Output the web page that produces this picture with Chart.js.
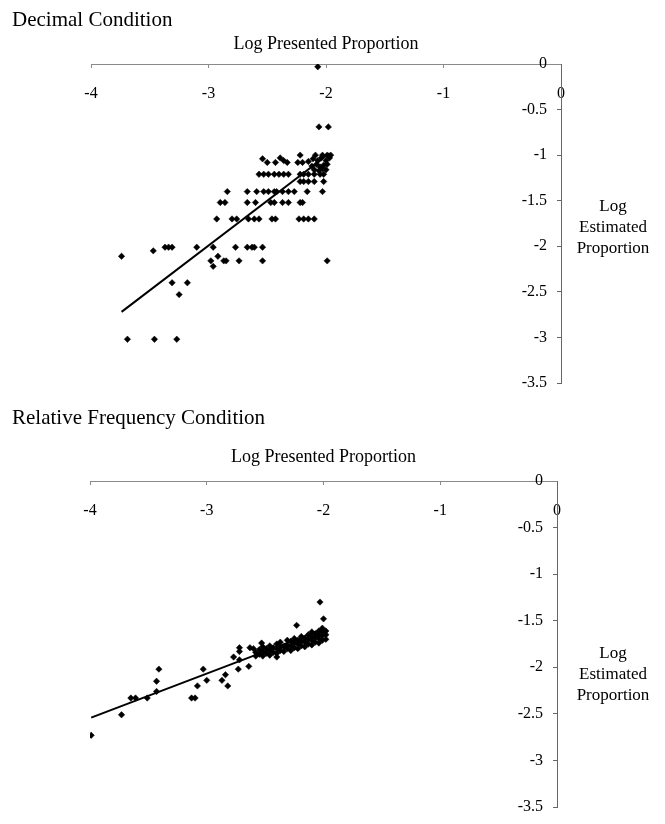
<!DOCTYPE html>
<html>
<head>
<meta charset="utf-8">
<script src="https://cdn.jsdelivr.net/npm/chart.js@4.4.0/dist/chart.umd.min.js"></script>
<style>
  body { margin: 0; background: #fff; font-family: "Liberation Serif", "Times New Roman", serif; color: #000; }
  #page { position: relative; width: 665px; height: 824px; overflow: hidden; }
  canvas { position: absolute; left: 0; }
  .cond { position: absolute; left: 12px; font-size: 21px; line-height: 24px; white-space: nowrap; }
  .ylab { position: absolute; left: 563px; width: 100px; text-align: center; font-size: 17px; line-height: 21px; }
</style>
</head>
<body>
<div id="page">
  <canvas id="decimalChart" width="665" height="400" style="top:0"></canvas>
  <canvas id="freqChart" width="665" height="424" style="top:400px"></canvas>
  <div class="cond" style="top:7px">Decimal Condition</div>
  <div class="ylab" style="top:195px">Log<br>Estimated<br>Proportion</div>
  <div class="cond" style="top:405px">Relative Frequency Condition</div>
  <div class="ylab" style="top:642px">Log<br>Estimated<br>Proportion</div>
</div>
<script>
// Decimal condition: log presented proportion (x) vs log estimated proportion (y)
const decimalX = [
  -2.07,
  -2.06, -1.98,
  -2.22, -2.09, -2.03, -1.99, -1.96,
  -2.54, -2.50, -2.43, -2.39, -2.36, -2.33, -2.24, -2.20, -2.15, -2.11, -2.07, -2.04, -2.00, -1.97,
  -2.12, -2.08, -2.05, -2.02, -1.99, -2.10, -2.06, -2.03, -2.00,
  -2.57, -2.53, -2.49, -2.44, -2.40, -2.36, -2.32, -2.22, -2.19, -2.15, -2.10, -2.05, -2.02,
  -2.22, -2.19, -2.15, -2.10, -2.02,
  -2.84, -2.67, -2.59, -2.53, -2.49, -2.44, -2.42, -2.37, -2.32, -2.27, -2.16, -2.03,
  -2.90, -2.86, -2.67, -2.60, -2.47, -2.44, -2.37, -2.32, -2.22, -2.20,
  -2.93, -2.80, -2.76, -2.66, -2.61, -2.57, -2.46, -2.43, -2.23, -2.19, -2.15, -2.10,
  -3.47, -3.37, -3.34, -3.31, -3.10, -2.96, -2.77, -2.67, -2.63, -2.61, -2.54,
  -3.74, -2.92,
  -2.98, -2.87, -2.85, -2.74, -2.54, -1.99,
  -2.96,
  -3.31, -3.18,
  -3.25,
  -3.69, -3.46, -3.27
];
const decimalY = [
  -0.03,
  -0.69, -0.69,
  -1.00, -1.00, -1.00, -1.00, -1.00,
  -1.04, -1.08, -1.08, -1.03, -1.06, -1.08, -1.08, -1.08, -1.07, -1.04, -1.06, -1.03, -1.06, -1.03,
  -1.12, -1.10, -1.13, -1.11, -1.10, -1.16, -1.17, -1.15, -1.16,
  -1.21, -1.21, -1.21, -1.21, -1.21, -1.21, -1.21, -1.21, -1.21, -1.21, -1.21, -1.21, -1.21,
  -1.29, -1.29, -1.29, -1.29, -1.29,
  -1.40, -1.40, -1.40, -1.40, -1.40, -1.40, -1.40, -1.40, -1.40, -1.40, -1.40, -1.40,
  -1.52, -1.52, -1.52, -1.52, -1.52, -1.52, -1.52, -1.52, -1.52, -1.52,
  -1.70, -1.70, -1.70, -1.70, -1.70, -1.70, -1.70, -1.70, -1.70, -1.70, -1.70, -1.70,
  -2.05, -2.01, -2.01, -2.01, -2.01, -2.01, -2.01, -2.01, -2.01, -2.01, -2.01,
  -2.11, -2.11,
  -2.16, -2.16, -2.16, -2.16, -2.16, -2.16,
  -2.22,
  -2.40, -2.40,
  -2.53,
  -3.02, -3.02, -3.02
];
const decimalFitX = [-3.74, -1.97];
const decimalFitY = [-2.72, -0.98];

// Relative frequency condition
const freqX = [
  -3.99, -3.73, -3.65, -3.61, -3.51, -3.43, -3.43, -3.41, -3.13, -3.10,
  -3.08, -3.03, -3.00, -2.87, -2.84, -2.82, -2.77, -2.73, -2.72, -2.72,
  -2.72, -2.64, -2.63, -2.60, -2.53, -2.40, -2.23, -2.03, -2.00,
  -2.58, -2.58, -2.55, -2.55, -2.52, -2.52, -2.52, -2.49, -2.49,
  -2.46, -2.46, -2.46, -2.43, -2.43, -2.40, -2.40, -2.40,
  -2.37, -2.37, -2.37, -2.34, -2.34, -2.31, -2.31, -2.31,
  -2.28, -2.28, -2.28, -2.25, -2.25, -2.25, -2.22, -2.22, -2.22,
  -2.19, -2.19, -2.19, -2.16, -2.16, -2.16, -2.13, -2.13, -2.13,
  -2.10, -2.10, -2.10, -2.10, -2.07, -2.07, -2.07,
  -2.04, -2.04, -2.04, -2.04, -2.01, -2.01, -2.01, -2.01, -1.98, -1.98, -1.98
];
const freqY = [
  -2.73, -2.51, -2.33, -2.33, -2.33, -2.26, -2.15, -2.02, -2.33, -2.33,
  -2.20, -2.02, -2.14, -2.14, -2.08, -2.20, -1.89, -2.02, -1.79, -1.83,
  -1.92, -1.99, -1.79, -1.80, -1.74, -1.89, -1.55, -1.30, -1.48,
  -1.88, -1.84, -1.86, -1.81, -1.88, -1.83, -1.78, -1.85, -1.80,
  -1.87, -1.82, -1.77, -1.84, -1.79, -1.85, -1.80, -1.75,
  -1.82, -1.78, -1.73, -1.83, -1.78, -1.80, -1.76, -1.71,
  -1.82, -1.77, -1.72, -1.79, -1.74, -1.69, -1.80, -1.75, -1.71,
  -1.77, -1.72, -1.67, -1.78, -1.73, -1.69, -1.75, -1.70, -1.65,
  -1.76, -1.71, -1.67, -1.62, -1.73, -1.68, -1.64,
  -1.74, -1.69, -1.65, -1.61, -1.71, -1.66, -1.62, -1.58, -1.70, -1.65, -1.61
];
const freqFitX = [-3.99, -2.00];
const freqFitY = [-2.54, -1.59];

const xTickStep = 1;
const yTickStep = 0.5;

const serif = '"Liberation Serif", "Times New Roman", serif';
const axisGray = '#8a8a8a';

function fmt(v) {
  return String(Math.round(v * 10) / 10 + 0);
}

function makeChart(id, xs, ys, fitX, fitY, g) {
  const pts = xs.map((x, i) => ({ x: x, y: ys[i] }));
  const fit = fitX.map((x, i) => ({ x: x, y: fitY[i] }));
  return new Chart(document.getElementById(id), {
    type: 'scatter',
    data: {
      datasets: [{
        data: pts,
        pointStyle: 'rectRot',
        pointRadius: 3.2,
        backgroundColor: '#000',
        borderColor: '#000',
        borderWidth: 0.5
      }, {
        data: fit,
        showLine: true,
        borderColor: '#000',
        borderWidth: 2,
        pointRadius: 0
      }]
    },
    options: {
      responsive: false,
      animation: false,
      layout: { padding: { left: g.left, right: 0, top: 0, bottom: g.bottom } },
      plugins: { legend: { display: false }, tooltip: { enabled: false } },
      scales: {
        x: {
          type: 'linear', position: 'top', min: -4, max: 0,
          afterFit: s => { s.height = g.axisTop; },
          border: { color: axisGray, width: 1 },
          grid: { drawOnChartArea: false, drawTicks: true, tickLength: -4, color: axisGray },
          ticks: {
            stepSize: xTickStep, mirror: true, padding: g.xTickPad, maxRotation: 0,
            color: '#000', font: { family: serif, size: 16 }, callback: fmt
          },
          title: {
            display: true, text: 'Log Presented Proportion', color: '#000',
            font: { family: serif, size: 18 }, padding: { top: g.titlePad, bottom: 0 }
          }
        },
        y: {
          type: 'linear', position: 'right', min: -3.5, max: 0,
          afterFit: s => { s.width = g.axisRight; },
          border: { color: '#666', width: 1 },
          grid: { drawOnChartArea: false, drawTicks: true, tickLength: -4, color: '#666' },
          ticks: {
            stepSize: yTickStep, mirror: true, padding: -14,
            color: '#000', font: { family: serif, size: 16 }, callback: fmt
          }
        }
      }
    }
  });
}

makeChart('decimalChart', decimalX, decimalY, decimalFitX, decimalFitY,
  { left: 91, bottom: 17, axisTop: 64, axisRight: 104, xTickPad: 20, titlePad: 33 });
makeChart('freqChart', freqX, freqY, freqFitX, freqFitY,
  { left: 90, bottom: 17, axisTop: 81, axisRight: 108, xTickPad: 20, titlePad: 46 });
</script>
</body>
</html>
